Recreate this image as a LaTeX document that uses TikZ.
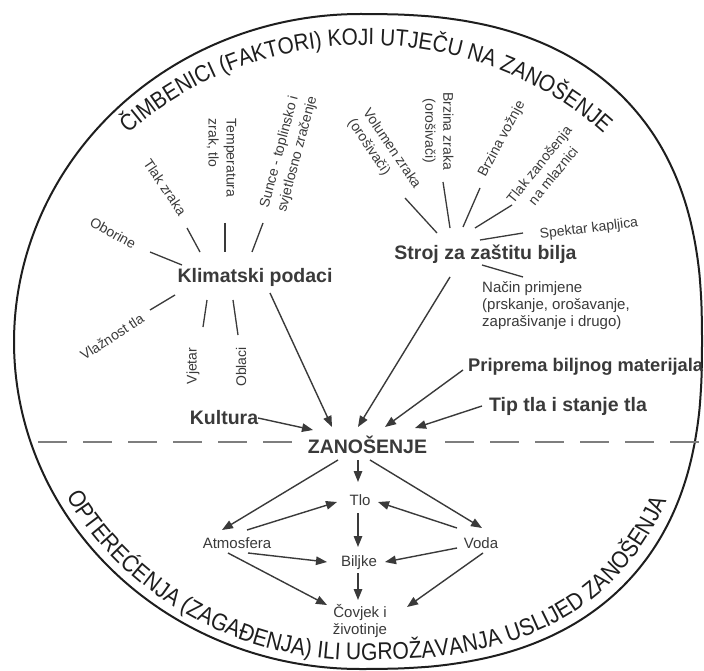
\documentclass[tikz,border=0pt]{standalone}
\usepackage{fontspec}
\setmainfont{Liberation Sans}
\newfontfamily\titlefont[FakeStretch=0.88]{Liberation Sans}
\usetikzlibrary{arrows.meta,decorations.text}
\definecolor{ink}{HTML}{3A3A3A}
\definecolor{titleink}{HTML}{1E1E1E}
\definecolor{dashc}{HTML}{7E7E7E}
\begin{document}
\begin{tikzpicture}[x=1pt,y=-1pt,
  lbl/.style={font=\fontsize{14}{18}\selectfont, text=ink, inner sep=0pt},
  big/.style={font=\bfseries\fontsize{19.5}{22}\selectfont, text=ink, inner sep=0pt, anchor=base},
  small/.style={font=\fontsize{15}{17}\selectfont, text=ink, inner sep=0pt, anchor=base},
  spoke/.style={draw=ink, line width=1.3pt},
  arr/.style={draw=ink, line width=1.4pt, -{Triangle[length=11pt,width=8.5pt]}},
  dashline/.style={draw=dashc, line width=2.2pt, dash pattern=on 29pt off 16pt},
]
\useasboundingbox (0,0) rectangle (704,671);
\fill[white] (0,0) rectangle (704,671);
% outer boundary: ellipse on the left, slightly squarer on the right
\draw[line width=2pt, titleink, line join=round]
  plot[domain=90:0, samples=70, smooth] ({360+342*pow(max(cos(\x),0.00001),0.8)}, {342-328*pow(max(sin(\x),0.00001),0.8)})
  -- plot[domain=0:90, samples=70, smooth] ({360+342*pow(max(cos(\x),0.00001),0.8)}, {342+327*pow(max(sin(\x),0.00001),0.8)})
  -- plot[domain=90:0, samples=70, smooth] ({360-346*cos(\x)}, {342+327*sin(\x)})
  -- plot[domain=0:90, samples=70, smooth] ({360-346*cos(\x)}, {342-328*sin(\x)})
  -- cycle;
% curved titles
\path[decorate, decoration={text along path, text align=center, text color=titleink,
  text={|\titlefont\fontsize{23.5}{27}\selectfont|ČIMBENICI (FAKTORI) KOJI UTJEČU NA ZANOŠENJE}}]
  (366,342) ++(212:333 and 297) arc[start angle=212, end angle=328, x radius=333, y radius=297];
\path[decorate, decoration={text along path, text align=left, text color=titleink,
  text={|\titlefont\fontsize{24}{27}\selectfont|OPTEREĆENJA (ZAGAĐENJA) ILI UGROŽAVANJA USLIJED ZANOŠENJA}}]
  plot[domain=29:90, samples=40, smooth] ({360-336*cos(\x)}, {342+318*sin(\x)})
  -- plot[domain=90:0, samples=60, smooth] ({360+331*pow(max(cos(\x),0.00001),0.8)}, {342+318*pow(max(sin(\x),0.00001),0.8)});
% dashed divider
\coordinate (dL) at (38,442);
\coordinate (dLe) at (296,442);
\coordinate (dRs) at (445,442);
\coordinate (dR) at (699,442);
\draw[dashline] (dL) -- (dLe);
\draw[dashline] (dRs) -- (dR);
% main labels
\node[big] (klim) at (255,282) {Klimatski podaci};
\node[big] (stroj) at (485.5,259) {Stroj za zaštitu bilja};
\node[big, anchor=base west, font=\bfseries\fontsize{18.3}{22}\selectfont] (prip) at (468,371) {Priprema biljnog materijala};
\node[big] (tip) at (568,411) {Tip tla i stanje tla};
\node[big] (kult) at (224,424) {Kultura};
\node[big] (zan) at (367.5,453) {ZANOŠENJE};
% lower labels
\node[small] (tlo) at (360,505) {Tlo};
\node[small] (atm) at (237,548) {Atmosfera};
\node[small] (voda) at (481,548) {Voda};
\node[small] (bil) at (359,566) {Biljke};
\node[small, align=center, anchor=center] (cov) at (360,621) {Čovjek i\\životinje};
% climate factor labels
\node[lbl, rotate=-29] (obo) at (113,233) {Oborine};
\node[lbl, rotate=-56] (tlak) at (165,187) {Tlak zraka};
\node[lbl, rotate=-90, align=left] (temp) at (221.5,158) {Temperatura\\zrak, tlo};
\node[lbl, rotate=75, align=left] (sunce) at (289,152) {Sunce - toplinsko i\\svjetlosno zračenje};
\node[lbl, rotate=33] (vlaz) at (112,337) {Vlažnost tla};
\node[lbl, rotate=90] (vjet) at (193,366) {Vjetar};
\node[lbl, rotate=90] (obl) at (241,367) {Oblaci};
% machine factor labels
\node[lbl, rotate=-56, align=left] (vol) at (384,154) {Volumen zraka\\(orošivači)};
\node[lbl, rotate=-90, align=center] (bzr) at (438,131) {Brzina zraka\\(orošivači)};
\node[lbl, rotate=62] (bvo) at (502,139) {Brzina vožnje};
\node[lbl, rotate=51, align=center] (tza) at (546,170) {Tlak zanošenja\\na mlaznici};
\node[lbl, rotate=7] (spek) at (589,229) {Spektar kapljica};
\node[lbl, anchor=north west, align=left, font=\fontsize{15}{17}\selectfont] (nacin) at (482,281) {Način primjene\\(prskanje, orošavanje,\\zaprašivanje i drugo)};
% spokes: climate
\coordinate (k1a) at (150,252); \coordinate (k1b) at (182,265);
\coordinate (k2a) at (187,228); \coordinate (k2b) at (200,252);
\coordinate (k3a) at (225,223); \coordinate (k3b) at (225,252);
\coordinate (k4a) at (263,223); \coordinate (k4b) at (252,252);
\coordinate (k5a) at (175,295); \coordinate (k5b) at (150,310);
\coordinate (k6a) at (207,300); \coordinate (k6b) at (203,327);
\coordinate (k7a) at (233,300); \coordinate (k7b) at (238,335);
\foreach \i in {1,...,7} {\draw[spoke] (k\i a) -- (k\i b);}
% spokes: machine
\coordinate (s1a) at (405,198); \coordinate (s1b) at (437,233);
\coordinate (s2a) at (443,182); \coordinate (s2b) at (450,228);
\coordinate (s3a) at (480,188); \coordinate (s3b) at (463,227);
\coordinate (s4a) at (512,205); \coordinate (s4b) at (475,228);
\coordinate (s5a) at (523,233); \coordinate (s5b) at (480,240);
\coordinate (s6a) at (482,265); \coordinate (s6b) at (523,277);
\foreach \i in {1,...,6} {\draw[spoke] (s\i a) -- (s\i b);}
% arrows into ZANOSENJE
\coordinate (kultS) at (258,418); \coordinate (kultE) at (313,430);
\coordinate (klimS) at (270,293); \coordinate (klimE) at (332,427);
\coordinate (strojS) at (450,277); \coordinate (strojE) at (358,427);
\coordinate (pripS) at (463,370); \coordinate (pripE) at (385,427);
\coordinate (tipS) at (482,406); \coordinate (tipE) at (415,428);
\draw[arr] (kultS) -- (kultE);
\draw[arr] (klimS) -- (klimE);
\draw[arr] (strojS) -- (strojE);
\draw[arr] (pripS) -- (pripE);
\draw[arr] (tipS) -- (tipE);
% lower arrows
\coordinate (zA) at (338,460); \coordinate (atmT) at (222,530);
\coordinate (zT) at (358,460); \coordinate (tloT) at (358,482);
\coordinate (zV) at (370,460); \coordinate (vodT) at (482,528);
\coordinate (atmS1) at (247,530); \coordinate (tloL) at (337,502);
\coordinate (vodS1) at (457,528); \coordinate (tloR) at (378,502);
\coordinate (tloB) at (358,513); \coordinate (bilT) at (358,547);
\coordinate (atmS2) at (248,553); \coordinate (bilL) at (327,562);
\coordinate (vodS2) at (457,548); \coordinate (bilR) at (385,562);
\coordinate (bilB) at (358,573); \coordinate (covT) at (358,600);
\coordinate (atmS3) at (228,553); \coordinate (covL) at (327,605);
\coordinate (vodS3) at (483,553); \coordinate (covR) at (407,607);
\draw[arr] (zA) -- (atmT);
\draw[arr] (zT) -- (tloT);
\draw[arr] (zV) -- (vodT);
\draw[arr] (atmS1) -- (tloL);
\draw[arr] (vodS1) -- (tloR);
\draw[arr] (tloB) -- (bilT);
\draw[arr] (atmS2) -- (bilL);
\draw[arr] (vodS2) -- (bilR);
\draw[arr] (bilB) -- (covT);
\draw[arr] (atmS3) -- (covL);
\draw[arr] (vodS3) -- (covR);
\end{tikzpicture}
\end{document}
